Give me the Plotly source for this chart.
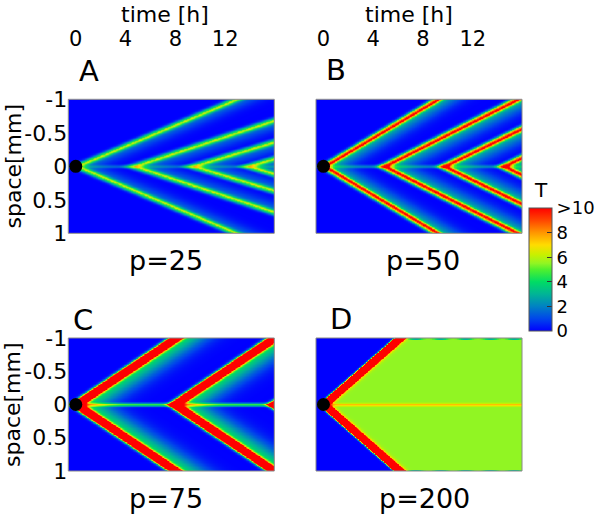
import numpy as np
import plotly.graph_objects as go

# ---- values ----
panel_labels = ["A", "B", "C", "D"]
p_labels = ["p=25", "p=50", "p=75", "p=200"]
time_ticks = [0, 4, 8, 12]
space_ticks = [-1, -0.5, 0, 0.5, 1]
space_ticktext = ["-1", "-0.5", "0", "0.5", "1"]
cbar_ticks = [0, 2, 4, 6, 8, 10]
cbar_ticktext = ["0", "2", "4", "6", "8", ">10"]

# wave onset times at the centre (h) and time needed to travel 1 mm (h)
onsets_A = [0.0, 4.6, 9.3, 13.75]
cross_A = [12.8, 16.4, 17.9, 18.0]
onsets_B = [0.0, 4.8, 9.6, 14.4]
cross_B = [9.1, 10.7, 11.1, 11.1]
onsets_C = [0.0, 7.9, 15.9]
cross_C = [8.0, 8.0, 8.0]
onsets_D = [0.0]
cross_D = [6.1]

# wave front peak level, front width (mm), trailing level, trailing length (mm)
front_peak = [4.8, 9.0, 30.0, 100.0]
front_width = [0.03, 0.033, 0.04, 0.03]
trail_level = [1.8, 3.0, 4.5, 4.5]
trail_length = [0.15, 0.2, 0.3, 0.08]
plateau_level = [0.0, 0.0, 0.0, 5.5]
centre_level = [1.5, 2.0, 4.6, 2.0]
centre_width = [0.015, 0.015, 0.018, 0.015]
edge_dash_times_D = [7.4, 9.4, 11.4, 13.4, 15.3]
edge_dash_level = 3.0

t_range = [-0.6, 15.95]
x_range = [-1.0, 1.0]

# ---- build the T fields ----
t = np.linspace(t_range[0], t_range[1], 300)
x = np.linspace(x_range[0], x_range[1], 220)
TT, XX = np.meshgrid(t, x)
AX = np.abs(XX)

def field(k, onsets, crosses):
    z = np.zeros_like(TT)
    for on, tc in zip(onsets, crosses):
        d = (TT - on) / tc - AX
        band = front_peak[k] * np.exp(-0.5 * (d / front_width[k]) ** 2)
        trail = np.where(d > 0, trail_level[k] * np.exp(-(d / trail_length[k]) ** 2), 0.0)
        plat = plateau_level[k] / (1.0 + np.exp(-np.clip(d / 0.008, -50, 50)))
        z = np.maximum(z, band + trail + plat)
    z = z + centre_level[k] * np.exp(-0.5 * (XX / centre_width[k]) ** 2) / (1 + np.exp(-np.clip(TT / 0.2, -50, 50)))
    return z

fields = [field(0, onsets_A, cross_A), field(1, onsets_B, cross_B),
          field(2, onsets_C, cross_C), field(3, onsets_D, cross_D)]
zD = fields[3]
for td in edge_dash_times_D:
    m = np.exp(-0.5 * ((TT - td) / 0.35) ** 2) * (AX > 0.975)
    zD = zD - (plateau_level[3] - edge_dash_level) * m
fields[3] = zD
fields = [np.round(np.clip(f, 0, 12), 2) for f in fields]

colorscale = [
    [0.0, "rgb(0,0,255)"], [0.1, "rgb(0,70,235)"], [0.2, "rgb(0,130,195)"],
    [0.3, "rgb(0,180,150)"], [0.4, "rgb(0,220,100)"], [0.5, "rgb(80,240,45)"],
    [0.55, "rgb(145,245,35)"], [0.62, "rgb(200,240,0)"], [0.7, "rgb(255,220,0)"],
    [0.8, "rgb(255,150,0)"], [0.9, "rgb(255,70,0)"], [1.0, "rgb(255,0,0)"],
]

fig = go.Figure()
axes = [("x", "y"), ("x2", "y2"), ("x3", "y3"), ("x4", "y4")]
for k, (xa, ya) in enumerate(axes):
    fig.add_trace(go.Heatmap(x=t, y=x, z=fields[k], coloraxis="coloraxis",
                             xaxis=xa, yaxis=ya, zsmooth="best", hoverinfo="skip"))
    fig.add_trace(go.Scatter(x=[0], y=[0], mode="markers", xaxis=xa, yaxis=ya,
                             marker=dict(size=13, color="black"), cliponaxis=False,
                             showlegend=False, hoverinfo="skip"))

W, H = 600, 528
def px(v):
    return v / W
def py(v):
    return 1 - v / H

dom_x_left = [px(68.3), px(274.3)]
dom_x_right = [px(316), px(522)]
dom_y_top = [py(233.3), py(99.3)]
dom_y_bot = [py(471), py(338)]

font = "DejaVu Sans"
common_x = dict(range=t_range, showgrid=False, zeroline=False, showline=False,
                ticks="", automargin=False)
common_y = dict(range=[x_range[1], x_range[0]], showgrid=False, zeroline=False,
                showline=False, ticks="", tickvals=space_ticks, ticktext=space_ticktext,
                tickfont=dict(size=22, color="black"), automargin=False)

fig.update_layout(
    width=W, height=H, margin=dict(l=0, r=0, t=0, b=0, autoexpand=False),
    paper_bgcolor="white", plot_bgcolor="white",
    font=dict(family=font, color="black"), showlegend=False,
    xaxis=dict(domain=dom_x_left, anchor="free", position=py(50), side="top",
               tickvals=time_ticks, tickfont=dict(size=21), **common_x),
    xaxis2=dict(domain=dom_x_right, anchor="free", position=py(50), side="top",
                tickvals=time_ticks, tickfont=dict(size=21), **common_x),
    xaxis3=dict(domain=dom_x_left, anchor="y3", showticklabels=False, **common_x),
    xaxis4=dict(domain=dom_x_right, anchor="y4", showticklabels=False, **common_x),
    yaxis=dict(domain=dom_y_top, anchor="x", **common_y),
    yaxis2=dict(domain=dom_y_top, anchor="x2", showticklabels=False, **common_y),
    yaxis3=dict(domain=dom_y_bot, anchor="x3", **common_y),
    yaxis4=dict(domain=dom_y_bot, anchor="x4", showticklabels=False, **common_y),
    coloraxis=dict(
        colorscale=colorscale, cmin=0, cmax=10,
        colorbar=dict(x=px(529), xanchor="left", xpad=0, ypad=0,
                      thicknessmode="pixels", thickness=23,
                      lenmode="fraction", len=123 / H, y=py(269.5), yanchor="middle",
                      outlinewidth=1, outlinecolor="#555",
                      tickvals=cbar_ticks, ticktext=cbar_ticktext,
                      ticks="inside", ticklen=5, tickcolor="#333",
                      tickfont=dict(size=18, color="black")),
    ),
)

for xa, ya in axes:
    fig.add_shape(type="rect", xref=f"{xa} domain", yref=f"{ya} domain",
                  x0=0, x1=1, y0=0, y1=1, line=dict(color="#888", width=1), layer="above")

ann = []
for cx in [165, 409]:
    ann.append(dict(text="time [h]", x=px(cx), y=1.0, font=dict(size=22), yanchor="top"))
for cy in [166, 404.5]:
    ann.append(dict(text="space[mm]", x=px(12.5), y=py(cy), textangle=-90, font=dict(size=22)))
for lab, (cx, cy) in zip(panel_labels, [(89, 71), (336, 70), (83, 320), (341, 319)]):
    ann.append(dict(text=lab, x=px(cx), y=py(cy), font=dict(size=29)))
for lab, (cx, cy) in zip(p_labels, [(166, 260), (423, 260), (166, 498), (424, 498)]):
    ann.append(dict(text=lab, x=px(cx), y=py(cy), font=dict(size=27)))
ann.append(dict(text="T", x=px(541), y=py(190), font=dict(size=20)))
for a in ann:
    a.setdefault("yanchor", "middle")
    a.update(xref="paper", yref="paper", showarrow=False, xanchor="center")
fig.update_layout(annotations=ann)

fig.write_html("out.html", config={"displayModeBar": False},
               post_script="document.body.style.margin='0';")
